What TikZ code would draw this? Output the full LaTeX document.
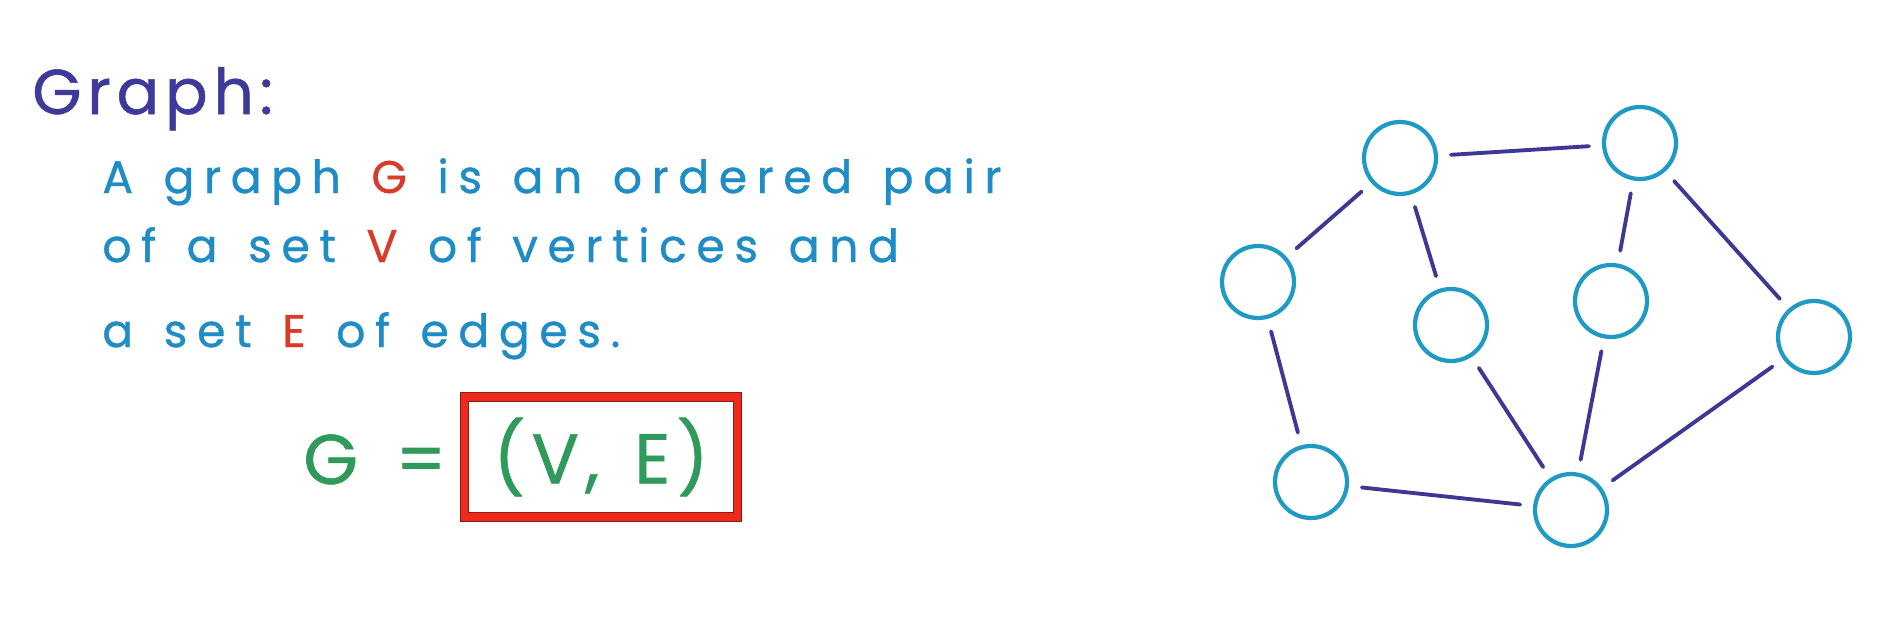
\documentclass[tikz,border=0pt]{standalone}
\usepackage{fontspec}
\setmainfont{Poppins}[FakeBold=0.8,WordSpace=1.4]
\usetikzlibrary{positioning}
\definecolor{SlideInk}{HTML}{3F3A9A}
\definecolor{SlideBlue}{HTML}{1F8CC6}
\definecolor{SlideRed}{HTML}{D83A2C}
\definecolor{SlideGreen}{HTML}{2F9A5C}
\definecolor{SlideBox}{HTML}{EE2A1E}
\definecolor{SlideBoxShade}{HTML}{8A1A12}
\definecolor{SlideNode}{HTML}{1E9AC4}
\definecolor{SlideEdge}{HTML}{3D3894}
\tikzset{
  slide/title/.style={
    text=SlideInk, anchor=base west, inner sep=0pt,
    font=\fontsize{36}{40}\selectfont\addfontfeatures{LetterSpace=9}
  },
  slide/body/.style={
    text=SlideBlue, anchor=base west, inner sep=0pt,
    font=\fontsize{26}{30}\selectfont\addfontfeatures{LetterSpace=21}
  },
  slide/eq/.style={
    text=SlideGreen, inner sep=0pt,
    font=\fontsize{40}{46}\selectfont\addfontfeatures{LetterSpace=9}
  },
  slide/pairbox/.style={
    slide/eq, draw=SlideBox, line width=4.4pt,
    minimum width=5.46cm, minimum height=2.4cm,
    preaction={draw=SlideBoxShade, line width=5.6pt}
  },
  slide/vertex/.style={
    circle, draw=SlideNode, line width=2.4pt,
    minimum size=1.44cm, inner sep=0pt
  },
  slide/edge/.style={
    draw=SlideEdge, line width=2.2pt, line cap=round,
    shorten <=.26cm, shorten >=.26cm
  }
}

\begin{document}
\begin{tikzpicture}[x=.02cm,y=-.02cm]
  \useasboundingbox (0,0) rectangle (1887,629);
  % definition text
  \node[slide/title] (title) at (32,114) {Graph:};
  \node[slide/body] (line1) at (102,193)
    {A graph \textcolor{SlideRed}{G} is an ordered pair};
  \node[slide/body] (line2) at (102,262)
    {of a set \textcolor{SlideRed}{V} of vertices and};
  \node[slide/body] (line3) at (102,347)
    {a set \textcolor{SlideRed}{E} of edges.};
  % G = (V, E)
  \node[slide/eq,anchor=base west] (eqG) at (303,484) {G};
  \node[slide/eq] (eqsign) at (421,466) {=};
  \node[slide/pairbox] (pair) at (601,457) {(V, E)};
  % the example graph
  \foreach \pos/\name in {{1400,158}/1,{1640,143}/2,{1258,282}/3,{1451,325}/4,
      {1611,301}/5,{1814,337}/6,{1311,482}/7,{1571,510}/8}
    \node[slide/vertex] (v\name) at (\pos) {};
  \foreach \a/\b in {1/2,1/3,1/4,2/5,2/6,3/7,7/8,4/8,5/8,6/8}
    \draw[slide/edge] (v\a) -- (v\b);
\end{tikzpicture}
\end{document}
